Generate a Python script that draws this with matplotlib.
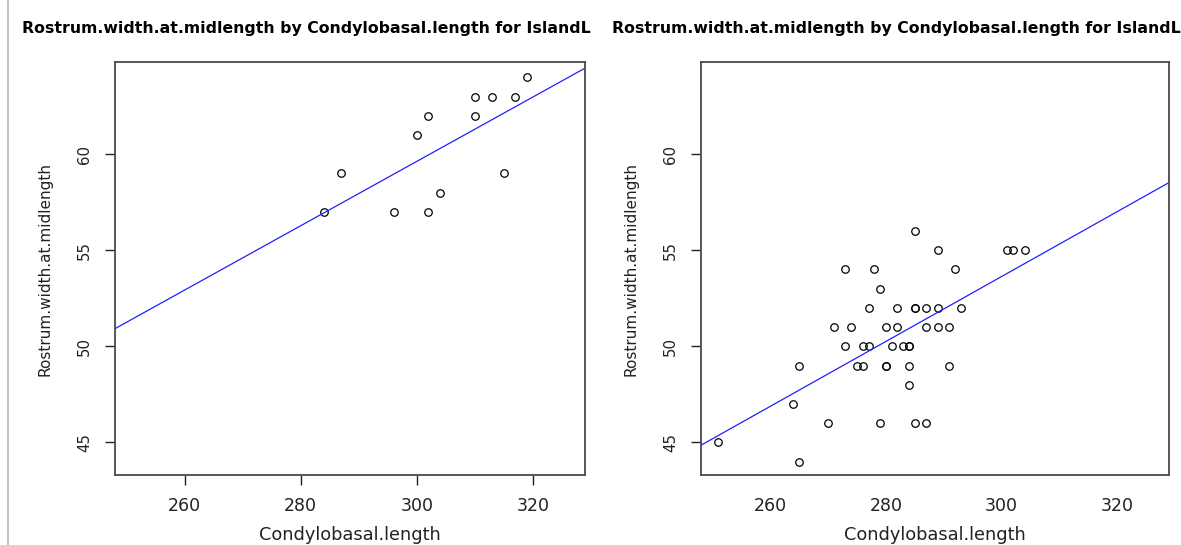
import numpy as np
import matplotlib
matplotlib.use("Agg")
import matplotlib.pyplot as plt
from matplotlib.lines import Line2D

# left panel data
cbl_left = [319, 310, 313, 317, 302, 310, 300, 287, 315, 304, 284, 296, 302]
rw_left = [64, 63, 63, 63, 62, 62, 61, 59, 59, 58, 57, 57, 57]

# right panel data
cbl_right = [285,
             289, 301, 302, 304,
             273, 278, 292,
             279,
             277, 282, 285, 285, 287, 289, 293,
             271, 274, 280, 282, 287, 289, 291,
             273, 276, 277, 281, 283, 284, 284,
             265, 275, 276, 280, 280, 284, 291,
             284,
             264,
             270, 279, 285, 287,
             251,
             265]
rw_right = [56,
            55, 55, 55, 55,
            54, 54, 54,
            53,
            52, 52, 52, 52, 52, 52, 52,
            51, 51, 51, 51, 51, 51, 51,
            50, 50, 50, 50, 50, 50, 50,
            49, 49, 49, 49, 49, 49, 49,
            48,
            47,
            46, 46, 46, 46,
            45,
            44]

x_ticks = [260, 280, 300, 320]
y_ticks = [45, 50, 55, 60]
xlim = (248, 329)
ylim = (43.3, 64.8)

# title as it shows in the window (cut off by the device)
title = "Rostrum.width.at.midlength by Condylobasal.length for IslandL"
xlab = "Condylobasal.length"
ylab = "Rostrum.width.at.midlength"

W, H = 1181, 545
fig = plt.figure(figsize=(W / 100, H / 100), dpi=100)
fig.patch.set_facecolor("white")

frame_col = "#4a4a4a"

def panel(left_px, width_px, xs, ys, show_xticks):
    ax = fig.add_axes([left_px / W, 1 - 475 / H, width_px / W, 413 / H])
    ax.plot(xs, ys, linestyle="none", marker="o", ms=5.4, mfc="none",
            mec="black", mew=0.9)
    slope, icpt = np.polyfit(xs, ys, 1)
    ax.axline((0, icpt), slope=slope, color="#2020ff", lw=0.9)
    ax.set_xlim(*xlim)
    ax.set_ylim(*ylim)
    ax.set_xticks(x_ticks)
    ax.set_yticks(y_ticks)
    for s in ax.spines.values():
        s.set_color(frame_col)
        s.set_linewidth(1.3)
    ax.tick_params(axis="y", length=7.5, width=1.0, color="#222222",
                   pad=9, labelsize=10.8, labelcolor="#222222")
    ax.tick_params(axis="x", length=7.5, width=1.0,
                   color="#222222" if show_xticks else "none",
                   pad=8, labelsize=12.5, labelcolor="#222222")
    plt.setp(ax.get_yticklabels(), rotation=90, va="center")
    ax.set_xlabel(xlab, fontsize=12.8, color="#222222")
    ax.xaxis.set_label_coords(0.5, -0.145)
    ax.xaxis.label.set_va("center")
    ax.set_ylabel(ylab, fontsize=11, color="#222222")
    ax.yaxis.label.set_va("center")
    ax.yaxis.set_label_coords(-0.149, 0.5)
    return ax

ax1 = panel(115, 470, cbl_left, rw_left, True)
ax2 = panel(701, 468, cbl_right, rw_right, False)

for x0 in (22, 612):
    fig.text(x0 / W, 1 - 28 / H, title, ha="left", va="center",
             fontsize=11.3, fontweight="bold", color="black")

# left edge line of the screenshot window
fig.add_artist(Line2D([8 / W, 8 / W], [0, 1], color="#b8b8b8", lw=1.2,
                      transform=fig.transFigure))

fig.savefig("out.png", dpi=100, facecolor="white")
